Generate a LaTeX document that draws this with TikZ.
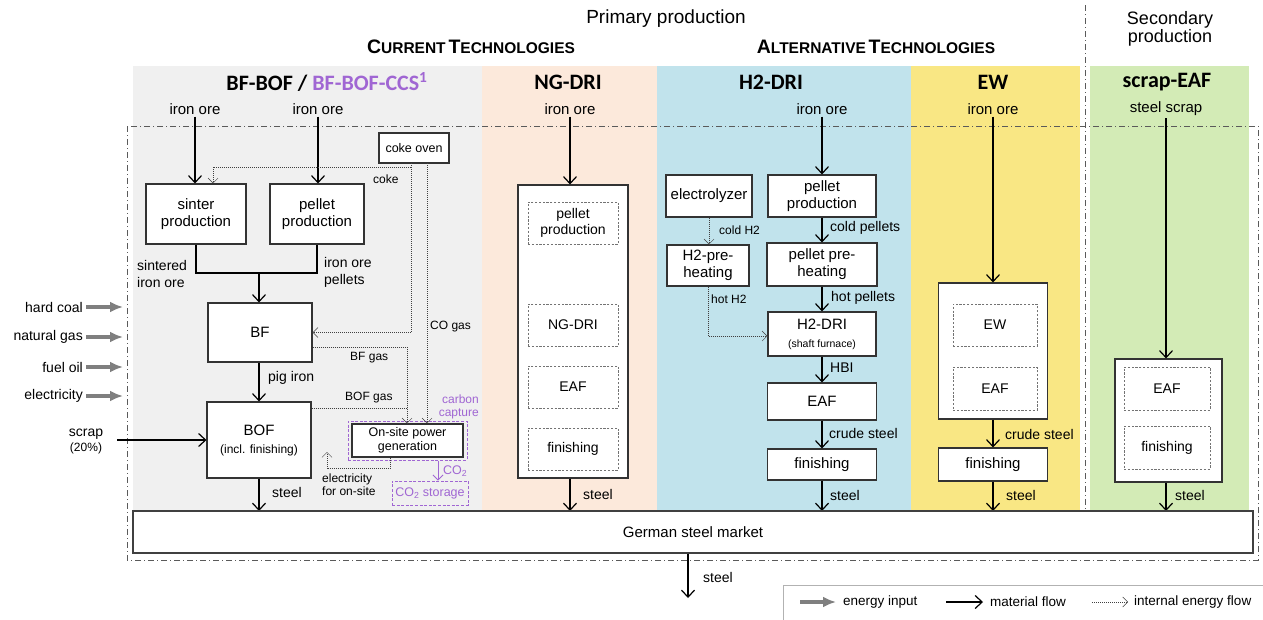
\documentclass[tikz,border=0pt]{standalone}
\usepackage{fontspec}
\setmainfont{Liberation Sans}
\newfontfamily\calibfont{Carlito}
\usetikzlibrary{arrows.meta,calc}

\definecolor{bgGray}{HTML}{F0F0F0}
\definecolor{bgPeach}{HTML}{FCE9DB}
\definecolor{bgBlue}{HTML}{C1E3EC}
\definecolor{bgYellow}{HTML}{F9E784}
\definecolor{bgGreen}{HTML}{D3EBB6}
\definecolor{ccs}{HTML}{A066D3}
\definecolor{framecol}{HTML}{5A5A5A}
\definecolor{energycol}{HTML}{7F7F7F}

\newcommand\fsz[2]{\fontsize{#1}{#2}\selectfont}
\newcommand\smc[2]{{\fsz{19.5}{21}#1}{\fsz{15.5}{17}#2}}

\begin{document}
\begin{tikzpicture}[x=1pt,y=-1pt,
  proc/.style={draw=black!80, line width=1.1pt, fill=white, align=center, inner sep=1pt, font=\fsz{15}{17}},
  sub/.style={draw=black!55, line width=0.6pt, dash pattern=on 2.2pt off 1.6pt, align=center, inner sep=1pt, font=\fsz{14}{16}},
  capbox/.style={draw=ccs, line width=1pt, dash pattern=on 3pt off 1.6pt, align=center, inner sep=1pt},
  colhd/.style={font=\fsz{22}{24}\calibfont\bfseries},
  inl/.style={font=\fsz{15}{17}, inner sep=2pt},
  lb14/.style={anchor=west, inner sep=0pt, font=\fsz{14}{17}},
  lb12/.style={anchor=west, inner sep=0pt, font=\fsz{12}{14}},
  mat/.style={draw=black, line width=1.2pt, -{Straight Barb[length=7pt,width=13pt]}},
  intl/.style={draw=black!75, line width=0.6pt, dash pattern=on 1pt off 1pt},
  int/.style={intl, -{Straight Barb[length=5pt,width=10pt,line width=0.5pt]}},
  inp/.style={draw=energycol, line width=3.4pt, -{Latex[length=13pt,width=11pt]}},
  frm/.style={draw=framecol, line width=0.7pt, dash pattern=on 6pt off 3pt on 1pt off 3pt},
]
\useasboundingbox (0,0) rectangle (1263,619);

% column backgrounds
\fill[bgGray]   (133,66)  rectangle (482,511);
\fill[bgPeach]  (482,66)  rectangle (657,511);
\fill[bgBlue]   (657,66)  rectangle (911,511);
\fill[bgYellow] (911,66)  rectangle (1080,511);
\fill[bgGreen]  (1090,66) rectangle (1249,511);

% system boundary and primary/secondary divider
\draw[frm] (127,126) rectangle (1258,560);
\draw[frm] (1085,5) -- (1085,511);

% headings
\node[font=\fsz{19}{21}] (prim) at (666,19) {Primary production};
\node[font=\fsz{18}{18}, align=center] (sec) at (1170,29) {Secondary\\production};
\node[font=\bfseries] (cur) at (471,47) {\smc{C}{URRENT} \smc{T}{ECHNOLOGIES}};
\node[font=\bfseries] (alt) at (876,47) {\smc{A}{LTERNATIVE} \smc{T}{ECHNOLOGIES}};
\node[colhd] (hBF) at (327,82) {BF-BOF / \textcolor{ccs}{BF-BOF-CCS\textsuperscript{1}}};
\node[colhd] (hNG) at (568,82) {NG-DRI};
\node[colhd] (hH2) at (771,82) {H2-DRI};
\node[colhd] (hEW) at (993,82) {EW};
\node[colhd] (hSC) at (1167,82) {scrap-EAF};

% raw material inputs
\node[inl] (io1) at (195,109) {iron ore};
\node[inl] (io2) at (318,109) {iron ore};
\node[inl] (io3) at (570,109) {iron ore};
\node[inl] (io4) at (822,109) {iron ore};
\node[inl] (io5) at (993,109) {iron ore};
\node[inl] (io6) at (1166,109) {steel scrap};

% energy inputs
\node[lb14, anchor=east] (ehc) at (83,307) {hard coal};
\node[lb14, anchor=east] (eng) at (83,337) {natural gas};
\node[lb14, anchor=east] (efo) at (83,367) {fuel oil};
\node[lb14, anchor=east] (eel) at (83,396) {electricity};
\coordinate (ehcE) at (123,307);
\coordinate (engE) at (123,337);
\coordinate (efoE) at (123,367);
\coordinate (eelE) at (123,396);
\draw[inp] ($(ehc.east)+(3,0)$) -- (ehcE);
\draw[inp] ($(eng.east)+(3,0)$) -- (engE);
\draw[inp] ($(efo.east)+(3,0)$) -- (efoE);
\draw[inp] ($(eel.east)+(3,0)$) -- (eelE);

% ---------- BF-BOF ----------
\node[proc, minimum width=100pt, minimum height=60pt] (sinter) at (196,214) {sinter\\production};
\node[proc, minimum width=94pt, minimum height=60pt] (pel1) at (317,214) {pellet\\production};
\node[proc, minimum width=104pt, minimum height=59pt] (BF) at (260,332.5) {BF};
\node[proc, minimum width=104pt, minimum height=76pt] (BOF) at (259,440) {BOF\\[1pt]{\fsz{12}{14}(incl. finishing)}};
\node[proc, minimum width=70pt, minimum height=30pt, font=\fsz{12.5}{14}] (coke) at (414,148) {coke oven};
\node[capbox, minimum width=119pt, minimum height=39pt] (cap) at (407.5,440.5) {};
\node[proc, minimum width=111pt, minimum height=33pt, font=\fsz{12.5}{13.5}] (pg) at (407.5,440.5) {On-site power\\generation};
\node[capbox, minimum width=76pt, minimum height=24pt, text=ccs, font=\fsz{12.5}{14}] (co2s) at (430,493) {CO\textsubscript{2} storage};

\draw[mat] (io1.south) -- (io1.south |- sinter.north);
\draw[mat] (io2.south) -- (io2.south |- pel1.north);
\coordinate (merge) at (259,273);
\draw[line width=1.2pt] (sinter.south) |- (merge) -| (pel1.south);
\draw[mat] (merge) -- (merge |- BF.north);
\draw[mat] (BF.south -| merge) -- (BOF.north -| merge);
\coordinate (scrIn) at (117,440);
\draw[mat] (scrIn) -- (BOF.west);
\draw[mat] (BOF.south) -- (BOF.south |- 0,511);

% internal energy flows
\coordinate (cokeL) at (411,163);
\coordinate (cokeR) at (427,163);
\coordinate (cokeJ) at (411,167);
\draw[int] (cokeL) |- (BF.east);
\draw[int] (cokeJ) -| ($(sinter.north)+(17,0)$);
\draw[int] (cokeR) -- (cokeR |- pg.north);
\draw[int] ($(BF.east)+(0,14.5)$) -| ($(pg.north)+(-0.5,0)$);
\coordinate (bofg) at ($(BOF.east)+(0,-32)$);
\draw[intl] (bofg) -- (bofg -| pg.north);
\coordinate (elA) at ($(pg.south)+(-17.5,0)$);
\coordinate (elEnd) at (327,452);
\draw[int] (elA) -- ++(0,11) -| (elEnd);
\coordinate (co2A) at ($(cap.south)+(30.5,0)$);
\draw[draw=ccs, line width=0.8pt, -{Straight Barb[length=5pt,width=10pt]}] (co2A) -- (co2A |- co2s.north);

% labels
\node[lb14, align=left] (lsint) at (137,274) {sintered\\iron ore};
\node[lb14, align=left] (lpel) at (324,272) {iron ore\\pellets};
\node[lb14] (lpig) at (268,378) {pig iron};
\node[lb14] (lst1) at (272,492) {steel};
\node[lb12] (lcoke) at (373,179) {coke};
\node[lb12] (lco) at (430,327) {CO gas};
\node[lb12] (lbfg) at (350,358) {BF gas};
\node[lb12] (lbofg) at (345,398) {BOF gas};
\node[lb12, anchor=east, align=right, text=ccs, font=\fsz{12}{12.5}] (lcap) at (479,407) {carbon\\capture};
\node[lb12, align=left, font=\fsz{12}{13}] (lel) at (322,485) {electricity\\for on-site};
\node[lb12, text=ccs, font=\fsz{12.5}{14}] (lco2) at (443,471) {CO\textsubscript{2}};
\node[align=center, inner sep=0pt] (lscr) at (86,441) {{\fsz{14}{16}scrap}\\[3pt]{\fsz{12}{14}(20\%)}};

% ---------- NG-DRI ----------
\node[proc, minimum width=110pt, minimum height=293pt] (ng) at (573,331.5) {};
\node[sub, minimum width=90pt, minimum height=42pt] (ngpel) at (573,223) {pellet\\production};
\node[sub, minimum width=90pt, minimum height=42pt] (ngdri) at (573,325) {NG-DRI};
\node[sub, minimum width=90pt, minimum height=42pt] (ngeaf) at (573,387) {EAF};
\node[sub, minimum width=90pt, minimum height=42pt] (ngfin) at (573,449) {finishing};
\draw[mat] (io3.south) -- (io3.south |- ng.north);
\draw[mat] (io3.south |- ng.south) -- (io3.south |- 0,511);
\node[lb14] (lst2) at (583,494) {steel};

% ---------- H2-DRI ----------
\node[proc, minimum width=86pt, minimum height=42pt] (ely) at (709,196) {electrolyzer};
\node[proc, minimum width=108pt, minimum height=42pt] (pp2) at (822,196) {pellet\\production};
\node[proc, minimum width=82pt, minimum height=41pt] (hph) at (708,265.5) {H2-pre-\\heating};
\node[proc, minimum width=110pt, minimum height=43pt] (pph) at (822,264.5) {pellet pre-\\heating};
\node[proc, minimum width=108pt, minimum height=44pt] (dri) at (822,334) {H2-DRI\\[1pt]{\fsz{10.5}{12}(shaft furnace)}};
\node[proc, minimum width=109pt, minimum height=37pt] (eaf2) at (822,401.5) {EAF};
\node[proc, minimum width=109pt, minimum height=31pt] (fin2) at (822,464.5) {finishing};
\draw[mat] (io4.south) -- (io4.south |- pp2.north);
\draw[mat] (pp2.south) -- (pph.north);
\draw[mat] (pph.south) -- (dri.north);
\draw[mat] (dri.south) -- (eaf2.north);
\draw[mat] (eaf2.south) -- (fin2.north);
\draw[mat] (fin2.south) -- (fin2.south |- 0,511);
\draw[int] (ely.south) -- (ely.south |- hph.north);
\draw[int] (hph.south) |- ($(dri.west)+(0,2)$);
\node[lb12] (lch2) at (719,230) {cold H2};
\node[lb12] (lhh2) at (711,299) {hot H2};
\node[lb14] (lcp) at (830,228) {cold pellets};
\node[lb14] (lhp) at (831,298) {hot pellets};
\node[lb14] (lhbi) at (830,368) {HBI};
\node[lb14] (lcs2) at (829,433) {crude steel};
\node[lb14] (lst3) at (830,495) {steel};

% ---------- EW ----------
\node[proc, minimum width=109pt, minimum height=136pt] (ew) at (993,351) {};
\node[sub, minimum width=84pt, minimum height=42pt] (ewew) at (995,325) {EW};
\node[sub, minimum width=84pt, minimum height=43pt] (eweaf) at (995,388.5) {EAF};
\node[proc, minimum width=109pt, minimum height=33pt] (ewfin) at (993,464.5) {finishing};
\draw[mat] (io5.south) -- (io5.south |- ew.north);
\draw[mat] (ew.south) -- (ewfin.north);
\draw[mat] (ewfin.south) -- (ewfin.south |- 0,511);
\node[lb14] (lcs4) at (1005,434) {crude steel};
\node[lb14] (lst4) at (1006,495) {steel};

% ---------- scrap-EAF ----------
\node[proc, minimum width=107pt, minimum height=123pt] (se) at (1168.5,420.5) {};
\node[sub, minimum width=86pt, minimum height=43pt] (seeaf) at (1167,388.5) {EAF};
\node[sub, minimum width=86pt, minimum height=43pt] (sefin) at (1167,447.5) {finishing};
\draw[mat] (io6.south) -- (io6.south |- se.north);
\draw[mat] (io6.south |- se.south) -- (io6.south |- 0,511);
\node[lb14] (lst5) at (1175,495) {steel};

% ---------- market ----------
\node[draw=black!75, line width=1.6pt, fill=white, minimum width=1120pt, minimum height=42pt, font=\fsz{15}{17}] (mkt) at (693,532) {German steel market};
\coordinate (mktOut) at (688,598);
\draw[mat] (mktOut |- mkt.south) -- (mktOut);
\node[lb14] (lst6) at (703,577) {steel};

% ---------- legend ----------
\draw[draw=black!30, line width=0.8pt] (783,625) -- (783,585) -- (1263,585);
\coordinate (lgA1) at (800,602);
\coordinate (lgA2) at (836,602);
\coordinate (lgB1) at (946,602);
\coordinate (lgB2) at (983,602);
\coordinate (lgC1) at (1092,602);
\coordinate (lgC2) at (1128,602);
\draw[inp] (lgA1) -- (lgA2);
\draw[mat] (lgB1) -- (lgB2);
\draw[int] (lgC1) -- (lgC2);
\node[lb14, font=\fsz{13.5}{15}] (lgt1) at (843,602) {energy input};
\node[lb14, font=\fsz{13.5}{15}] (lgt2) at (990,602) {material flow};
\node[lb14, font=\fsz{13.5}{15}] (lgt3) at (1134,602) {internal energy flow};
\end{tikzpicture}
\end{document}
